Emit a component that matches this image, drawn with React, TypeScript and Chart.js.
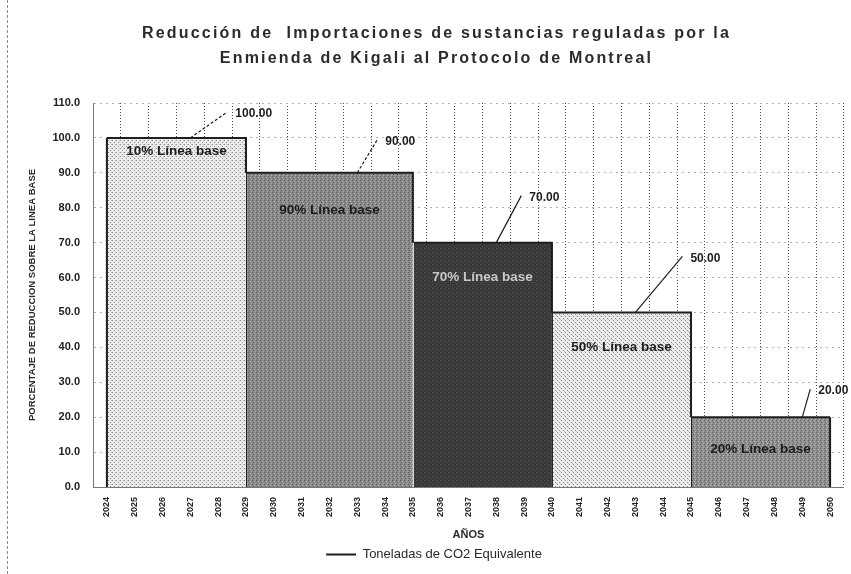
import React, { useEffect, useRef } from "react";
import { Chart, registerables } from "chart.js";

Chart.register(...registerables);

const titleLines = [
  "Reducción de  Importaciones de sustancias reguladas por la",
  "Enmienda de Kigali al Protocolo de Montreal",
];
const yAxisTitle = "PORCENTAJE DE REDUCCION SOBRE LA LINEA BASE";
const xAxisTitle = "AÑOS";
const seriesName = "Toneladas de CO2 Equivalente";

const years = [
  "2024", "2025", "2026", "2027", "2028", "2029", "2030", "2031", "2032",
  "2033", "2034", "2035", "2036", "2037", "2038", "2039", "2040", "2041",
  "2042", "2043", "2044", "2045", "2046", "2047", "2048", "2049", "2050",
];
const values = [
  100, 100, 100, 100, 100,
  90, 90, 90, 90, 90, 90,
  70, 70, 70, 70, 70,
  50, 50, 50, 50, 50,
  20, 20, 20, 20, 20, 20,
];
const blockLabels = [
  "10% Línea base",
  "90% Línea base",
  "70% Línea base",
  "50% Línea base",
  "20% Línea base",
];

// styling constants (not data)
const blockLabelColors = ["#1c1c1c", "#1c1c1c", "#c8c8c8", "#1c1c1c", "#1c1c1c"];
const blockLabelDy = [13, 37, 35, 35, 32];
const valueLabelOffsets = [
  [37, -26],
  [20, -33],
  [25, -47],
  [47, -56],
  [8, -28],
];
const valueLeaderDash = [[3, 2], [3, 2], [], [], []];

const FONT = "'Liberation Sans', Arial, sans-serif";
const TITLE_SIZE = 16;
const TITLE_LH = 25;

function computeBlocks(vals: number[]) {
  const blocks: { start: number; last: number; value: number }[] = [];
  vals.forEach((v, i) => {
    const b = blocks[blocks.length - 1];
    if (!b || b.value !== v) blocks.push({ start: i, last: i, value: v });
    else b.last = i;
  });
  return blocks;
}

function makePattern(bg: string, cells: [number, number, string][], size: number) {
  const c = document.createElement("canvas");
  c.width = size;
  c.height = size;
  const g = c.getContext("2d")!;
  g.fillStyle = bg;
  g.fillRect(0, 0, size, size);
  cells.forEach(([x, y, col]) => {
    g.fillStyle = col;
    g.fillRect(x, y, 1, 1);
  });
  return g.createPattern(c, "repeat")!;
}

export default function App() {
  const ref = useRef<HTMLCanvasElement>(null);

  useEffect(() => {
    const canvas = ref.current!;
    Chart.defaults.font.family = FONT;
    const blocks = computeBlocks(values);
    const blockOf = (i: number) => {
      for (let b = blocks.length - 1; b >= 0; b--) if (i >= blocks[b].start) return b;
      return 0;
    };

    const light = makePattern("#ececec", [[0, 0, "#8a8a8a"], [2, 2, "#8a8a8a"], [3, 0, "#bdbdbd"]], 4);
    const medium = makePattern(
      "#8a8a8a",
      [[0, 0, "#585858"], [2, 1, "#b4b4b4"], [1, 2, "#5e5e5e"], [3, 3, "#a8a8a8"]],
      4
    );
    const dark = makePattern("#393939", [[0, 0, "#555555"], [2, 2, "#4a4a4a"]], 4);
    const light2 = makePattern("#ebebeb", [[1, 0, "#8a8a8a"], [3, 2, "#8a8a8a"], [0, 3, "#bdbdbd"]], 4);
    const medium2 = makePattern(
      "#8f8f8f",
      [[0, 0, "#5c5c5c"], [2, 1, "#bcbcbc"], [1, 2, "#606060"], [3, 3, "#b0b0b0"]],
      4
    );
    const fills = [light, medium, dark, light2, medium2];

    const overlay = {
      id: "overlay",
      afterDatasetsDraw(chart: any) {
        const { ctx } = chart;
        const xs = chart.scales.x;
        const ys = chart.scales.y;
        const y0 = ys.getPixelForValue(0);
        ctx.save();
        // block edges
        ctx.strokeStyle = "#1e1e1e";
        ctx.lineWidth = 2;
        const xl = xs.getPixelForValue(0);
        ctx.beginPath();
        ctx.moveTo(xl, y0);
        ctx.lineTo(xl, ys.getPixelForValue(values[0]));
        const xr = xs.getPixelForValue(values.length - 1);
        ctx.moveTo(xr, y0);
        ctx.lineTo(xr, ys.getPixelForValue(values[values.length - 1]));
        ctx.stroke();
        ctx.lineWidth = 1;
        blocks.forEach((b, i) => {
          if (i === 0) return;
          const x = xs.getPixelForValue(b.start);
          ctx.strokeStyle = i === 2 ? "#f2f2f2" : "#1e1e1e";
          ctx.beginPath();
          ctx.moveTo(x + 0.5, y0);
          ctx.lineTo(x + 0.5, ys.getPixelForValue(b.value));
          ctx.stroke();
        });
        // block labels
        ctx.font = `bold 13.5px ${FONT}`;
        ctx.textAlign = "center";
        ctx.textBaseline = "middle";
        blocks.forEach((b, i) => {
          const end = i < blocks.length - 1 ? blocks[i + 1].start : b.last;
          const cx = (xs.getPixelForValue(b.start) + xs.getPixelForValue(end)) / 2;
          const ty = ys.getPixelForValue(b.value) + blockLabelDy[i];
          ctx.fillStyle = blockLabelColors[i];
          ctx.fillText(blockLabels[i], cx, ty);
        });
        // value labels with leader lines
        ctx.font = `bold 12px ${FONT}`;
        ctx.textAlign = "left";
        blocks.forEach((b, i) => {
          const idx = b.last - 1;
          const ax = xs.getPixelForValue(idx);
          const ay = ys.getPixelForValue(values[idx]);
          const [dx, dy] = valueLabelOffsets[i];
          ctx.strokeStyle = "#1e1e1e";
          ctx.lineWidth = 1.2;
          ctx.setLineDash(valueLeaderDash[i]);
          ctx.beginPath();
          ctx.moveTo(ax, ay);
          ctx.lineTo(ax + dx, ay + dy);
          ctx.stroke();
          ctx.setLineDash([]);
          ctx.fillStyle = "#1e1e1e";
          ctx.fillText(values[idx].toFixed(2), ax + dx + 8, ay + dy + 2);
        });
        ctx.restore();
      },
      afterDraw(chart: any) {
        // title drawn with letter spacing, in the box laid out by the title plugin
        const { ctx } = chart;
        const tb = chart.titleBlock;
        if (!tb) return;
        ctx.save();
        ctx.font = `bold ${TITLE_SIZE}px ${FONT}`;
        (ctx as any).letterSpacing = "2.2px";
        ctx.fillStyle = "#2b2b2b";
        ctx.textAlign = "center";
        ctx.textBaseline = "middle";
        const cx = (chart.chartArea.left + chart.chartArea.right) / 2 - 32;
        titleLines.forEach((line, i) => {
          ctx.fillText(line, cx, tb.top + 21.5 + TITLE_LH / 2 + i * TITLE_LH);
        });
        ctx.restore();
      },
    };

    const chart = new Chart(canvas, {
      type: "line",
      data: {
        labels: years,
        datasets: [
          {
            label: seriesName,
            data: values,
            stepped: "before",
            fill: "origin",
            borderColor: "#1e1e1e",
            borderWidth: 2,
            pointRadius: 0,
            backgroundColor: fills[0] as any,
            segment: {
              backgroundColor: (c: any) => fills[blockOf(c.p0DataIndex)] as any,
            },
          } as any,
        ],
      },
      options: {
        responsive: false,
        animation: false,
        events: [],
        layout: { padding: { left: 23, right: 6, top: 0, bottom: 3 } },
        plugins: {
          title: {
            display: true,
            text: titleLines,
            color: "rgba(0,0,0,0)",
            font: { size: TITLE_SIZE, weight: "bold", family: FONT, lineHeight: `${TITLE_LH}px` },
            padding: { top: 19.5, bottom: 33.5 },
          },
          legend: {
            display: true,
            position: "bottom",
            labels: {
              usePointStyle: true,
              pointStyle: "line",
              pointStyleWidth: 30,
              boxHeight: 13,
              padding: 6,
              color: "#2a2a2a",
              font: { size: 13, family: FONT },
            },
          },
          tooltip: { enabled: false },
        },
        scales: {
          x: {
            type: "category",
            offset: true,
            grid: { offset: true, color: "#4a4a4a", drawTicks: false },
            border: { display: true, color: "#777", dash: [1, 2] },
            ticks: {
              autoSkip: false,
              maxRotation: 90,
              minRotation: 90,
              padding: 10,
              color: "#222",
              font: { size: 9, weight: "bold", family: FONT },
            },
            title: {
              display: true,
              text: xAxisTitle,
              color: "#2a2a2a",
              font: { size: 11, weight: "bold", family: FONT },
              padding: { top: 2, bottom: 0 },
            },
            afterFit: (s: any) => {
              s.height = 55;
            },
          },
          y: {
            min: 0,
            max: 110,
            grid: { color: "#b0b0b0", drawTicks: false },
            border: { display: true, color: "#777", dash: [2, 4] },
            ticks: {
              stepSize: 10,
              padding: 13,
              color: "#222",
              font: { size: 11, weight: "bold", family: FONT },
              callback: (v: any) => Number(v).toFixed(1),
            },
            title: {
              display: true,
              text: yAxisTitle,
              color: "#2a2a2a",
              font: { size: 9.5, weight: "bold", family: FONT },
              padding: { top: 4, bottom: 4 },
            },
            afterFit: (s: any) => {
              s.width = 70;
            },
          },
        },
      },
      plugins: [overlay],
    } as any);

    return () => chart.destroy();
  }, []);

  return (
    <div style={{ position: "fixed", left: 0, top: 0, width: 851, height: 574, background: "#fff" }}>
      <div
        style={{
          position: "absolute",
          left: 7,
          top: 0,
          height: 574,
          borderLeft: "1px dashed #8a8a8a",
        }}
      />
      <canvas ref={ref} width={851} height={574} style={{ display: "block" }} />
    </div>
  );
}
